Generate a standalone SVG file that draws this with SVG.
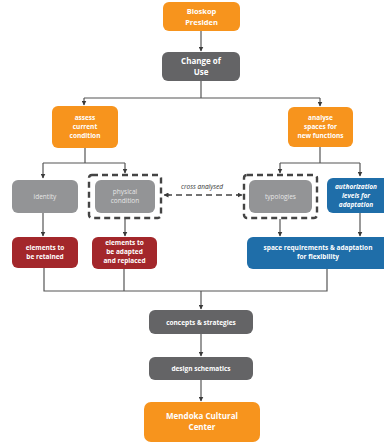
<svg xmlns="http://www.w3.org/2000/svg" width="384" height="444" viewBox="0 0 384 444">
<defs>
<marker id="ah" viewBox="0 0 10 10" refX="9" refY="5" markerWidth="5" markerHeight="5" orient="auto-start-reverse" markerUnits="userSpaceOnUse"><path d="M0,0 L10,5 L0,10 z" fill="#3a3a3a"/></marker>
</defs>
<style>
.orange{fill:#f7941d}
.dark{fill:#646466}
.light{fill:#939496}
.red{fill:#a3272b}
.blue{fill:#1f6ea9}
.t{font-family:"Open Sans","DejaVu Sans",sans-serif;font-size:6.5px;font-weight:bold;fill:#fff;text-anchor:middle}
.tl{font-family:"Open Sans","DejaVu Sans",sans-serif;font-size:6.5px;fill:#e6e6e6;text-anchor:middle}
.ti{font-family:"Open Sans","DejaVu Sans",sans-serif;font-size:6.5px;font-style:italic;font-weight:bold;fill:#fff;text-anchor:middle}
.big{font-size:8px}
.ln{fill:none;stroke:#555;stroke-width:1.2}
.dash{fill:none;stroke:#444;stroke-width:2.4;stroke-dasharray:6,4}
</style>
<rect width="384" height="444" fill="#fff"/>
<g id="connectors">
<path class="ln" d="M201,31 V51" marker-end="url(#ah)"/>
<path class="ln" d="M201,81 V98 M84,98 H320"/>
<path class="ln" d="M84,98 V105" marker-end="url(#ah)"/>
<path class="ln" d="M320,98 V106" marker-end="url(#ah)"/>
<path class="ln" d="M85,148 V163 M43,163 H125"/>
<path class="ln" d="M43,163 V178" marker-end="url(#ah)"/>
<path class="ln" d="M125,163 V173" marker-end="url(#ah)"/>
<path class="ln" d="M320,147 V163 M280,163 H360"/>
<path class="ln" d="M280,163 V173" marker-end="url(#ah)"/>
<path class="ln" d="M360,163 V176" marker-end="url(#ah)"/>
<path class="ln" d="M43,213 V236" marker-end="url(#ah)"/>
<path class="ln" d="M125,219 V236" marker-end="url(#ah)"/>
<path class="ln" d="M280,219 V236" marker-end="url(#ah)"/>
<path class="ln" d="M360,213 V236" marker-end="url(#ah)"/>
<path class="ln" d="M44,268 V291 H327 V269 M124,269 V291"/>
<path class="ln" d="M201,291 V309" marker-end="url(#ah)"/>
<path class="ln" d="M201,334 V356" marker-end="url(#ah)"/>
<path class="ln" d="M201,380 V401" marker-end="url(#ah)"/>
<path d="M166,195 H240" fill="none" stroke="#444" stroke-width="1.6" stroke-dasharray="6,4"/>
<path class="ln" d="M170,195 H164" marker-end="url(#ah)"/>
<path class="ln" d="M236,195 H242" marker-end="url(#ah)"/>
<text x="202" y="189" class="ti" style="fill:#333;font-weight:normal">cross analysed</text>
</g>
<g id="n-bioskop"><rect x="163" y="2" width="77" height="29" rx="6" class="orange"/><text x="201.5" y="14" class="t" style="font-size:7.5px">Bioskop</text><text x="201.5" y="25" class="t" style="font-size:7.5px">Presiden</text></g>
<g id="n-change"><rect x="162" y="52" width="78" height="29" rx="6" class="dark"/><text x="201" y="64" class="t big">Change of</text><text x="201" y="75" class="t big">Use</text></g>
<g id="n-assess"><rect x="52" y="106" width="66" height="42" rx="6" class="orange"/><text x="85" y="120" class="t">assess</text><text x="85" y="129" class="t">current</text><text x="85" y="138" class="t">condition</text></g>
<g id="n-analyse"><rect x="288" y="107" width="65" height="40" rx="6" class="orange"/><text x="320.5" y="120" class="t">analyse</text><text x="320.5" y="129" class="t">spaces for</text><text x="320.5" y="138" class="t">new functions</text></g>
<g id="n-identity"><rect x="12" y="180" width="66" height="33" rx="6" class="light"/><text x="45" y="198.5" class="tl">identity</text></g>
<g id="n-physical"><rect x="89" y="175" width="72" height="43" rx="3" class="dash"/><rect x="95" y="180" width="60" height="33" rx="6" class="light"/><text x="125" y="194" class="tl">physical</text><text x="125" y="203" class="tl">condition</text></g>
<g id="n-typologies"><rect x="244" y="175" width="73" height="43" rx="3" class="dash"/><rect x="249" y="180" width="63" height="33" rx="6" class="light"/><text x="280.5" y="198.5" class="tl">typologies</text></g>
<g id="n-auth"><rect x="327" y="178" width="64" height="35" rx="6" class="blue"/><text x="356" y="189" class="ti">authorization</text><text x="356" y="198" class="ti">levels for</text><text x="356" y="207" class="ti">adaptation</text></g>
<g id="n-retained"><rect x="12" y="237" width="66" height="31" rx="6" class="red"/><text x="45" y="250" class="t">elements to</text><text x="45" y="259" class="t">be retained</text></g>
<g id="n-adapted"><rect x="92" y="237" width="65" height="32" rx="6" class="red"/><text x="124.5" y="245" class="t">elements to</text><text x="124.5" y="254" class="t">be adapted</text><text x="124.5" y="263" class="t">and replaced</text></g>
<g id="n-space"><rect x="247" y="237" width="146" height="32" rx="6" class="blue"/><text x="318" y="250" class="t">space requirements &amp; adaptation</text><text x="318" y="259" class="t">for flexibility</text></g>
<g id="n-concepts"><rect x="149" y="310" width="104" height="24" rx="6" class="dark"/><text x="201" y="324.5" class="t">concepts &amp; strategies</text></g>
<g id="n-design"><rect x="149" y="357" width="104" height="23" rx="6" class="dark"/><text x="201" y="371" class="t">design schematics</text></g>
<g id="n-mendoka"><rect x="144" y="402" width="116" height="40" rx="7" class="orange"/><text x="202" y="419" class="t big">Mendoka Cultural</text><text x="202" y="430" class="t big">Center</text></g>
</svg>
